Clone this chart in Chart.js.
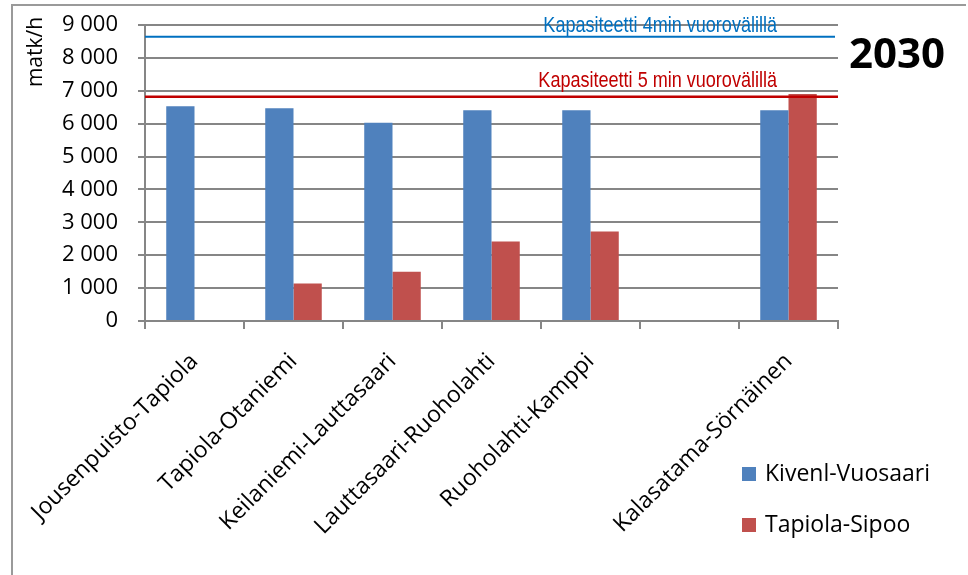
<!DOCTYPE html>
<html>
<head>
<meta charset="utf-8">
<script src="https://cdn.jsdelivr.net/npm/chart.js@4.4.1/dist/chart.umd.min.js"></script>
<style>
  html, body { margin: 0; padding: 0; background: #ffffff; }
  #wrap { width: 968px; height: 575px; position: relative; }
</style>
</head>
<body>
<div id="wrap"><canvas id="chart" width="968" height="575"></canvas></div>
<script>
// Passenger volumes per line section, year 2030 (matk/h)
const categories = [
  'Jousenpuisto-Tapiola',
  'Tapiola-Otaniemi',
  'Keilaniemi-Lauttasaari',
  'Lauttasaari-Ruoholahti',
  'Ruoholahti-Kamppi',
  '',
  'Kalasatama-Sörnäinen'
];
const seriesNames = ['Kivenl-Vuosaari', 'Tapiola-Sipoo'];
const kivenlVuosaari = [6530, 6470, 6030, 6410, 6410, null, 6410];
const tapiolaSipoo = [null, 1140, 1500, 2420, 2720, null, 6900];
const yTicks = [0, 1000, 2000, 3000, 4000, 5000, 6000, 7000, 8000, 9000];

// Capacity reference lines
const capacityLabels = ['Kapasiteetti 4min vuorovälillä', 'Kapasiteetti 5 min vuorovälillä'];
const capacityValues = [8640, 6820];

const yearLabel = '2030';
const yAxisTitle = 'matk/h';

const FONT = '"Open Sans", "Noto Sans", sans-serif';
const GRID = '#868686';
const seriesColors = ['#4F81BD', '#C0504D'];
const capacityStyles = [
  { color: '#0070C0', width: 2, rightPad: 3, textDy: -5 },
  { color: '#C00000', width: 2.5, rightPad: 0, textDy: -10 }
];
// condensed look for the capacity captions
const NARROW_SCALE = 0.82;

function formatThousands(v) {
  return String(v).replace(/\B(?=(\d{3})+(?!\d))/g, ' ');
}

const decorations = {
  id: 'decorations',
  beforeDraw(chart) {
    const ctx = chart.ctx;
    ctx.save();
    ctx.fillStyle = '#ffffff';
    ctx.fillRect(0, 0, chart.width, chart.height);
    // frame (top and left edges)
    ctx.strokeStyle = '#9a9a9a';
    ctx.lineWidth = 2;
    ctx.beginPath();
    ctx.moveTo(12, chart.height + 2);
    ctx.lineTo(12, 5);
    ctx.lineTo(966, 5);
    ctx.stroke();
    ctx.restore();
  },
  afterDatasetsDraw(chart) {
    const ctx = chart.ctx;
    const y = chart.scales.y;
    const area = chart.chartArea;
    capacityValues.forEach((val, i) => {
      const st = capacityStyles[i];
      const py = y.getPixelForValue(val);
      ctx.save();
      ctx.strokeStyle = st.color;
      ctx.lineWidth = st.width;
      ctx.beginPath();
      ctx.moveTo(area.left, py);
      ctx.lineTo(area.right - st.rightPad, py);
      ctx.stroke();
      ctx.fillStyle = st.color;
      ctx.font = '22px "Liberation Sans", Arial, sans-serif';
      ctx.textAlign = 'right';
      ctx.textBaseline = 'alphabetic';
      ctx.translate(777, py + st.textDy);
      ctx.scale(NARROW_SCALE, 1);
      ctx.fillText(capacityLabels[i], 0, 0);
      ctx.restore();
    });
  },
  afterDraw(chart) {
    const ctx = chart.ctx;
    ctx.save();
    // year
    ctx.fillStyle = '#000000';
    ctx.font = 'bold 42px ' + FONT;
    ctx.textAlign = 'center';
    ctx.textBaseline = 'alphabetic';
    ctx.fillText(yearLabel, 897, 68);
    // y axis title
    ctx.translate(36, 52);
    ctx.rotate(-Math.PI / 2);
    ctx.font = '21px ' + FONT;
    ctx.textAlign = 'center';
    ctx.textBaseline = 'middle';
    ctx.fillText(yAxisTitle, 0, 0);
    ctx.restore();

    // legend
    ctx.save();
    ctx.font = '23px ' + FONT;
    ctx.textBaseline = 'middle';
    ctx.textAlign = 'left';
    chart.data.datasets.forEach((ds, i) => {
      const cy = 474 + i * 51;
      ctx.fillStyle = ds.backgroundColor;
      ctx.fillRect(742, cy - 7, 14, 14);
      ctx.fillStyle = '#000000';
      ctx.fillText(ds.label, 765, cy);
    });
    ctx.restore();
  }
};

new Chart(document.getElementById('chart'), {
  type: 'bar',
  data: {
    labels: categories,
    datasets: [
      { label: seriesNames[0], data: kivenlVuosaari, backgroundColor: seriesColors[0] },
      { label: seriesNames[1], data: tapiolaSipoo, backgroundColor: seriesColors[1] }
    ]
  },
  options: {
    responsive: false,
    animation: false,
    devicePixelRatio: 1,
    layout: { padding: { left: 12, top: 25, right: 130, bottom: 0 } },
    datasets: {
      bar: { categoryPercentage: 0.571, barPercentage: 1.0, borderWidth: 0 }
    },
    plugins: {
      legend: { display: false },
      tooltip: { enabled: false },
      title: { display: false }
    },
    scales: {
      x: {
        afterFit(scale) { scale.height = 254; },
        grid: {
          display: true,
          drawOnChartArea: false,
          drawTicks: true,
          tickLength: 8,
          color: GRID,
          lineWidth: 2,
          offset: true
        },
        border: { display: true, color: GRID, width: 2 },
        ticks: {
          autoSkip: false,
          minRotation: 45,
          maxRotation: 45,
          padding: 19,
          color: '#000000',
          font: { family: FONT, size: 23 }
        }
      },
      y: {
        min: 0,
        max: 9000,
        afterFit(scale) {
          scale.width = 133;
          scale.paddingTop = 0;
          scale.paddingBottom = 0;
        },
        afterBuildTicks(scale) { scale.ticks = yTicks.map(v => ({ value: v })); },
        grid: { color: GRID, lineWidth: 2, tickLength: 7, drawTicks: true },
        border: { display: true, color: GRID, width: 2 },
        ticks: {
          padding: 20,
          color: '#000000',
          font: { family: FONT, size: 22 },
          callback: (v) => formatThousands(v)
        }
      }
    }
  },
  plugins: [decorations]
});
</script>
</body>
</html>
